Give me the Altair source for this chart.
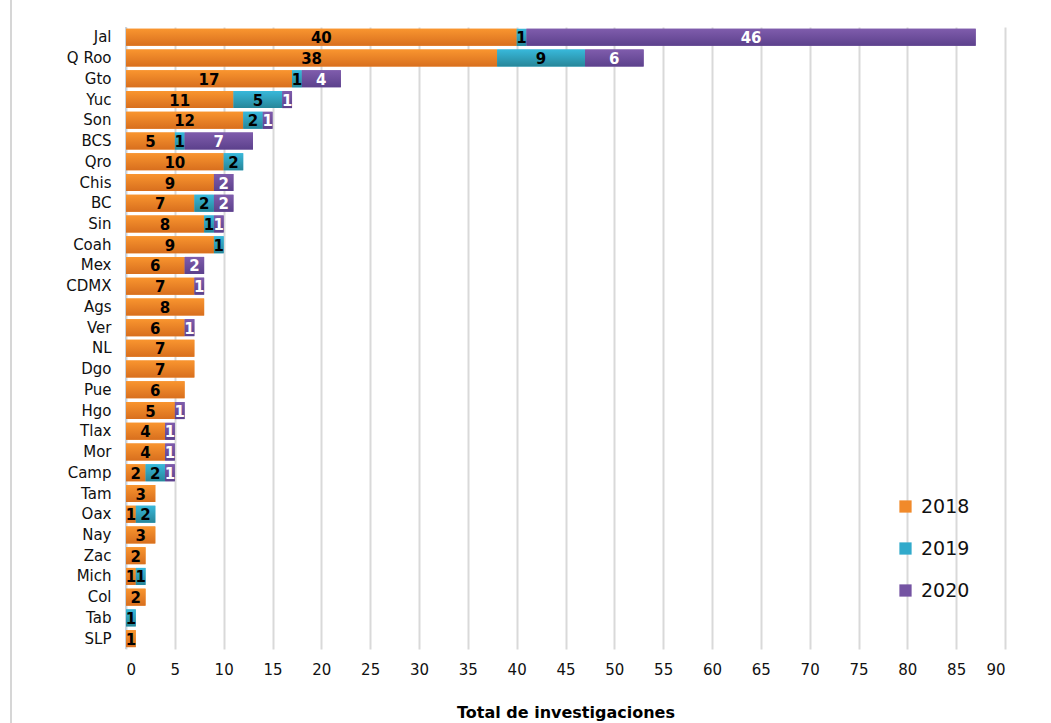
import altair as alt
import pandas as pd

states = ["Jal", "Q Roo", "Gto", "Yuc", "Son", "BCS", "Qro", "Chis", "BC", "Sin",
          "Coah", "Mex", "CDMX", "Ags", "Ver", "NL", "Dgo", "Pue", "Hgo", "Tlax",
          "Mor", "Camp", "Tam", "Oax", "Nay", "Zac", "Mich", "Col", "Tab", "SLP"]
v2018 = [40, 38, 17, 11, 12, 5, 10, 9, 7, 8, 9, 6, 7, 8, 6, 7, 7, 6, 5, 4, 4, 2, 3, 1, 3, 2, 1, 2, 0, 1]
v2019 = [1, 9, 1, 5, 2, 1, 2, 0, 2, 1, 1, 0, 0, 0, 0, 0, 0, 0, 0, 0, 0, 2, 0, 2, 0, 0, 1, 0, 1, 0]
v2020 = [46, 6, 4, 1, 1, 7, 0, 2, 2, 1, 0, 2, 1, 0, 1, 0, 0, 0, 1, 1, 1, 1, 0, 0, 0, 0, 0, 0, 0, 0]
years = ["2018", "2019", "2020"]
flat_colors = ["#F18A2A", "#31AACB", "#7453A2"]
grad_stops = [("#F9952F", "#D86F1E"), ("#38B8DA", "#278699"), ("#7F5CAC", "#5C418C")]

rows = []
for s, a, b, c in zip(states, v2018, v2019, v2020):
    for y, v in zip(years, (a, b, c)):
        if v > 0:
            rows.append({"state": s, "year": y, "value": v})
df = pd.DataFrame(rows)

FONT = "DejaVu Sans"
W, H = 879, 622

base = alt.Chart(df).transform_stack(
    stack="value", groupby=["state"], as_=["x0", "x1"],
    sort=[alt.SortField("year", order="ascending")]
).transform_calculate(mid="(datum.x0 + datum.x1) / 2")

xscale = alt.Scale(domain=[0, 90], nice=False)
yenc = alt.Y("state:N", sort=states, scale=alt.Scale(paddingInner=0.18, paddingOuter=0.09),
             axis=alt.Axis(title=None, labelFont=FONT, labelFontSize=15, labelColor="#111",
                           ticks=False, domain=False, labelPadding=15))

flat = base.mark_bar().encode(
    x=alt.X("x0:Q", scale=xscale,
            axis=alt.Axis(values=list(range(0, 91, 5)), title="Total de investigaciones",
                          titleFont=FONT, titleFontSize=16, titleFontWeight="bold",
                          titleColor="#000", titlePadding=27,
                          labelFont=FONT, labelFontSize=15, labelColor="#111",
                          labelPadding=13, ticks=False, domain=False,
                          grid=True, gridColor="#d9d9d9", gridWidth=2)),
    x2="x1:Q",
    y=yenc,
    color=alt.Color("year:N", scale=alt.Scale(domain=years, range=flat_colors),
                    legend=alt.Legend(title=None, orient="none", legendX=770, legendY=470,
                                      symbolType="square", symbolSize=150,
                                      symbolStrokeWidth=0,
                                      labelFont=FONT, labelFontSize=19, labelColor="#111",
                                      rowPadding=22, labelOffset=6)),
)

grad_layers = []
for y, (top, bot) in zip(years, grad_stops):
    g = alt.LinearGradient(gradient="linear",
                           stops=[alt.GradientStop(color=top, offset=0),
                                  alt.GradientStop(color=bot, offset=1)],
                           x1=0, y1=0, x2=0, y2=1)
    grad_layers.append(
        base.transform_filter(alt.datum.year == y).mark_bar(color=g).encode(
            x=alt.X("x0:Q", scale=xscale), x2="x1:Q", y=alt.Y("state:N", sort=states))
    )

labels = base.mark_text(font=FONT, fontSize=15, fontWeight="bold", baseline="middle",
                        align="center", dy=1).encode(
    x=alt.X("mid:Q", scale=xscale),
    y=alt.Y("state:N", sort=states),
    text="value:Q",
    color=alt.condition(alt.datum.year == "2020", alt.value("white"), alt.value("black")),
)

zero_line = alt.Chart(pd.DataFrame({"v": [0]})).mark_rule(color="#c9d3de", strokeWidth=2).encode(
    x=alt.X("v:Q", scale=xscale))

frame = alt.Chart(pd.DataFrame({"v": [0]})).mark_rule(color="#d6d6d6", strokeWidth=2).encode(
    x=alt.value(-115), y=alt.value(-40), y2=alt.value(H + 80))

chart = alt.layer(frame, zero_line, flat, *grad_layers, labels).properties(
    width=W, height=H,
    autosize=alt.AutoSizeParams(type="none"),
    padding={"left": 126, "top": 27, "right": 46, "bottom": 74},
    background="white",
).configure_view(stroke=None).resolve_scale(color="independent")

chart.save("out.html", embed_options={"renderer": "svg", "actions": False})
